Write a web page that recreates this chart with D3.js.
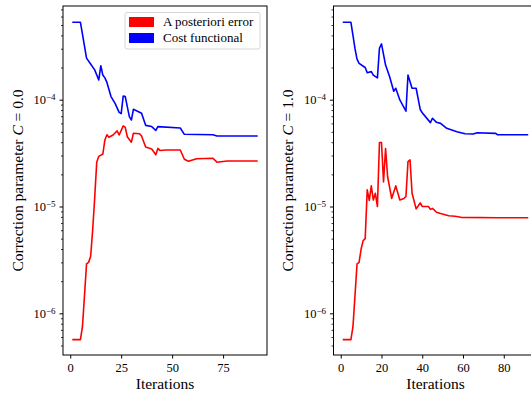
<!DOCTYPE html>
<html>
<head>
<meta charset="utf-8">
<script src="https://cdn.jsdelivr.net/npm/d3@7"></script>
<style>
  body { margin: 0; background: #ffffff; }
  svg { display: block; font-family: "Liberation Serif", "Times New Roman", serif; }
  .tick line { stroke: #000; }
  .tick text { fill: #000; font-family: "Liberation Serif", "Times New Roman", serif; }
</style>
</head>
<body>
<svg id="chart" width="531" height="399"></svg>
<script>
// tick values
var x_ticks_left = [0, 25, 50, 75];
var x_ticks_right = [0, 20, 40, 60, 80];
var y_tick_exponents = [-6, -5, -4];

// C = 0.0 : cost functional
var c0_cost_iter = [1, 5, 6, 8, 10, 12, 14, 15, 16, 17, 18, 20, 22, 24, 25, 26, 27, 29, 30, 31, 33, 35, 37, 40, 42, 43, 54, 56, 70, 72, 92];
var c0_cost = [5.3e-4, 5.3e-4, 4.1e-4, 2.45e-4, 2.16e-4, 1.9e-4, 1.53e-4, 2.08e-4, 1.7e-4, 1.6e-4, 1.45e-4, 1.07e-4, 9.25e-5, 7.6e-5, 7.4e-5, 1.08e-4, 1.07e-4, 6.93e-5, 6.45e-5, 8.13e-5, 7.8e-5, 7.46e-5, 5.75e-5, 5.6e-5, 5.15e-5, 5.6e-5, 5.43e-5, 4.74e-5, 4.7e-5, 4.57e-5, 4.57e-5];

// C = 0.0 : a posteriori error
var c0_err_iter = [1, 5, 6, 8, 9, 10, 11, 12, 13, 14, 16, 17, 18, 19, 21, 23, 24, 26, 27, 28, 30, 31, 34, 35, 37, 40, 42, 43, 44, 47, 54, 56, 58, 62, 70, 72, 77, 92];
var c0_err = [5.67e-7, 5.67e-7, 7.5e-7, 2.9e-6, 3.0e-6, 3.4e-6, 6e-6, 1.2e-5, 2.6e-5, 2.95e-5, 3.1e-5, 4.2e-5, 4.7e-5, 4.45e-5, 4.67e-5, 5.1e-5, 4.67e-5, 5.68e-5, 5.5e-5, 4.5e-5, 4.0e-5, 4.85e-5, 4.8e-5, 4.57e-5, 3.6e-5, 3.45e-5, 3.05e-5, 3.5e-5, 3.35e-5, 3.38e-5, 3.38e-5, 2.77e-5, 2.65e-5, 2.8e-5, 2.83e-5, 2.6e-5, 2.67e-5, 2.67e-5];

// C = 1.0 : cost functional
var c1_cost_iter = [1, 5, 6, 7, 8, 9, 12, 13, 15, 16, 18, 19, 20, 22, 24, 26, 27, 29, 32, 33, 35, 37, 39, 40, 44, 45, 47, 49, 52, 57, 61, 65, 67, 76, 77, 92];
var c1_cost = [5.3e-4, 5.3e-4, 4.0e-4, 3.0e-4, 2.4e-4, 2.19e-4, 2.0e-4, 1.79e-4, 1.83e-4, 1.7e-4, 1.6e-4, 3.03e-4, 3.33e-4, 2.11e-4, 1.64e-4, 1.2e-4, 1.28e-4, 9.94e-5, 7.8e-5, 1.7e-4, 1.28e-4, 1.28e-4, 8.1e-5, 7.55e-5, 6.1e-5, 6.7e-5, 6.14e-5, 6.0e-5, 5.4e-5, 5.02e-5, 4.8e-5, 4.77e-5, 4.91e-5, 4.84e-5, 4.7e-5, 4.7e-5];

// C = 1.0 : a posteriori error
var c1_err_iter = [1, 5, 6, 8, 9, 10, 11, 12, 13, 14, 15, 16, 17, 18, 19, 20, 21, 22, 23, 25, 27, 29, 31, 32, 33, 34, 35, 37, 39, 40, 43, 44, 45, 47, 49, 53, 56, 59, 77, 92];
var c1_err = [5.67e-7, 5.67e-7, 7.5e-7, 2.9e-6, 3.0e-6, 4.0e-6, 4.8e-6, 5.0e-6, 1.43e-5, 1.14e-5, 1.56e-5, 1.15e-5, 1.33e-5, 1.0e-5, 3.98e-5, 3.98e-5, 1.7e-5, 3.49e-5, 1.9e-5, 1.19e-5, 1.56e-5, 1.15e-5, 1.19e-5, 1.24e-5, 2.63e-5, 2.73e-5, 1.33e-5, 9.5e-6, 1.08e-5, 1.0e-5, 1.0e-5, 9.4e-6, 9.6e-6, 8.83e-6, 8.6e-6, 8.2e-6, 8.1e-6, 7.92e-6, 7.85e-6, 7.85e-6];

var legend_labels = ["A posteriori error", "Cost functional"];
var legend_colors = ["#ff0000", "#0000ff"];

var svg = d3.select("#chart");
var plot_top = 6;
var plot_bottom = 355;
var x_domain = [-3.55, 96.55];
var y_domain = [Math.pow(10, -6.39), Math.pow(10, -3.123)];
var serif = "Liberation Serif";

function zip(iters, vals)
{
  return iters.map(function(d, i){return {it: d, v: vals[i]};});
}

function build_panel(left, right, label_x, c_text, x_ticks, err, cost, show_legend)
{
  let g = svg.append("g");
  let x = d3.scaleLinear().domain(x_domain).range([left, right]);
  let y = d3.scaleLog().domain(y_domain).range([plot_bottom, plot_top]);

  // minor ticks on the log axis
  let minor = [];
  for (let e = -7; e <= -3; e++)
  {
    for (let m = 2; m <= 9; m++)
    {
      let v = m * Math.pow(10, e);
      if (v >= y_domain[0] && v <= y_domain[1]) {minor.push(v);}
    }
  }
  g.append("g")
    .attr("transform", "translate(" + left + ",0)")
    .call(d3.axisLeft(y).tickValues(minor).tickSize(2).tickSizeOuter(0).tickFormat(""))
    .call(function(a){a.select(".domain").remove(); a.selectAll("line").attr("stroke-width", 0.8);});

  // major y ticks with 10^k labels
  let y_axis = g.append("g")
    .attr("transform", "translate(" + left + ",0)")
    .call(d3.axisLeft(y).tickValues(y_tick_exponents.map(function(e){return Math.pow(10, e);}))
      .tickSize(3.5).tickSizeOuter(0).tickPadding(4).tickFormat(""));
  y_axis.attr("font-family", serif);
  y_axis.select(".domain").remove();
  y_axis.selectAll(".tick text")
    .attr("font-family", serif)
    .attr("font-size", 12.5)
    .each(function(d)
    {
      let t = d3.select(this);
      t.append("tspan").text("10");
      t.append("tspan").attr("dy", "-0.45em").attr("font-size", 9)
        .text("\u2212" + Math.abs(Math.round(Math.log10(d))));
    });

  // x axis
  let x_axis = g.append("g")
    .attr("transform", "translate(0," + plot_bottom + ")")
    .call(d3.axisBottom(x).tickValues(x_ticks).tickSize(3.5).tickSizeOuter(0).tickPadding(5));
  x_axis.attr("font-family", serif);
  x_axis.select(".domain").remove();
  x_axis.selectAll(".tick text").attr("font-family", serif).attr("font-size", 12.5);

  // lines
  let line = d3.line()
    .x(function(d){return x(d.it);})
    .y(function(d){return y(d.v);});
  g.append("path").datum(err)
    .attr("d", line).attr("fill", "none")
    .attr("stroke", legend_colors[0]).attr("stroke-width", 1.6).attr("stroke-linejoin", "round");
  g.append("path").datum(cost)
    .attr("d", line).attr("fill", "none")
    .attr("stroke", legend_colors[1]).attr("stroke-width", 1.6).attr("stroke-linejoin", "round");

  // frame
  g.append("rect")
    .attr("x", left).attr("y", plot_top)
    .attr("width", right - left).attr("height", plot_bottom - plot_top)
    .attr("fill", "none").attr("stroke", "#000").attr("stroke-width", 1);

  // axis labels
  g.append("text")
    .attr("x", (left + right) / 2).attr("y", 389)
    .attr("text-anchor", "middle").attr("font-size", 15.5)
    .text("Iterations");

  let yl = g.append("text")
    .attr("transform", "translate(" + label_x + "," + ((plot_top + plot_bottom) / 2) + ") rotate(-90)")
    .attr("text-anchor", "middle").attr("font-size", 15.5);
  yl.append("tspan").text("Correction parameter ");
  yl.append("tspan").attr("font-style", "italic").text("C");
  yl.append("tspan").text(" = " + c_text);

  if (show_legend)
  {
    let lg = g.append("g");
    lg.append("rect")
      .attr("x", 125).attr("y", 12.5).attr("width", 135).attr("height", 36.5).attr("rx", 2)
      .attr("fill", "#fff").attr("fill-opacity", 0.8).attr("stroke", "#cccccc").attr("stroke-width", 0.8);
    let rows = lg.selectAll(".legend-row")
      .data(legend_labels)
      .enter()
      .append("g")
      .attr("transform", function(d, i){return "translate(0," + (i * 16) + ")";});
    rows.append("rect")
      .attr("x", 129).attr("y", 17).attr("width", 25).attr("height", 10)
      .attr("fill", function(d, i){return legend_colors[i];});
    rows.append("text")
      .attr("x", 163).attr("y", 26).attr("font-size", 13)
      .text(function(d){return d;});
  }
}

build_panel(63, 267, 23.3, "0.0", x_ticks_left, zip(c0_err_iter, c0_err), zip(c0_cost_iter, c0_cost), true);
build_panel(333.5, 537.5, 293.3, "1.0", x_ticks_right, zip(c1_err_iter, c1_err), zip(c1_cost_iter, c1_cost), false);
</script>
</body>
</html>
